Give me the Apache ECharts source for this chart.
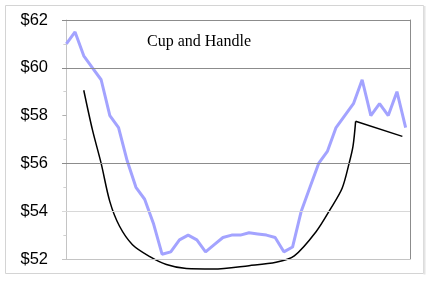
<!DOCTYPE html>
<html>
<head>
<meta charset="utf-8">
<script src="https://cdn.jsdelivr.net/npm/echarts@6/dist/echarts.min.js"></script>
<style>html,body{margin:0;padding:0;background:#fff}#c{width:432px;height:284px}</style>
</head>
<body>
<div id="c"></div>
<script>
// Categories (trading periods)
var days = [];
for (var d = 1; d <= 40; d++) days.push(String(d));
// Price series (lavender line)
var prices = [61.0, 61.5, 60.5, 60.0, 59.5, 58.0, 57.5, 56.1, 55.0, 54.5,
              53.5, 52.2, 52.3, 52.8, 53.0, 52.8, 52.3, 52.6, 52.9, 53.0,
              53.0, 53.1, 53.05, 53.0, 52.9, 52.3, 52.5, 54.0, 55.0, 56.0,
              56.5, 57.5, 58.0, 58.5, 59.5, 58.0, 58.5, 58.0, 59.0, 57.5];
// Cup outline (black curve): [period position, value]
var cupX = [2.0, 3.0, 4.0, 5.0, 6.1, 7.6, 9.6, 11.5, 13.8, 16.9,
            21.0, 24.1, 26.2, 28.7, 30.4, 31.7, 32.5, 32.95, 33.25];
var cupY = [59.06, 57.4, 56.0, 54.4, 53.38, 52.6, 52.1, 51.77, 51.6, 51.58,
            51.72, 51.86, 52.13, 53.14, 54.12, 54.96, 56.0, 56.72, 57.76];
// Handle (straight black segment)
var handleX = [33.25, 38.62];
var handleY = [57.76, 57.13];
// Y ticks
var yMin = 52, yMax = 62, yStep = 2;
var title = 'Cup and Handle';

function pairs(xs, ys) { return xs.map(function (x, i) { return [x, ys[i]]; }); }

var chart = echarts.init(document.getElementById('c'), null, {renderer: 'canvas'});
chart.setOption({
  animation: false,
  backgroundColor: '#fff',
  title: {
    text: title, left: 147, top: 34, padding: 0,
    textStyle: {fontFamily: 'Liberation Serif', fontWeight: 'normal', fontSize: 16, color: '#000'}
  },
  graphic: [{
    type: 'rect', shape: {x: 5.5, y: 5.5, width: 418, height: 268},
    style: {fill: 'none', stroke: '#d4d4d4', lineWidth: 1}, silent: true
  }, {
    type: 'line', shape: {x1: 424.5, y1: 6, x2: 424.5, y2: 274.5},
    style: {stroke: '#e4e4e4', lineWidth: 2}, silent: true
  }],
  grid: {left: 62, right: 22, top: 20, height: 239},
  xAxis: [{
    type: 'category', data: days, boundaryGap: true,
    axisLine: {show: false}, axisTick: {show: false}, axisLabel: {show: false}, splitLine: {show: false}
  }, {
    type: 'value', min: -0.5, max: 39.5, show: false
  }],
  yAxis: [{
    type: 'value', min: yMin, max: yMax, interval: yStep,
    axisLine: {show: true, lineStyle: {color: '#c4c4c4'}},
    axisTick: {show: true, length: 4, lineStyle: {color: '#b0b0b0'}},
    minorTick: {show: true, splitNumber: 2, length: 3, lineStyle: {color: '#d0d0d0'}},
    splitLine: {show: false},
    axisLabel: {
      formatter: function (v) { return '$' + v; }, margin: 14,
      fontFamily: 'Liberation Sans', fontSize: 16.5, color: '#000'
    }
  }, {
    type: 'value', position: 'right', min: yMin, max: yMax, interval: yStep,
    axisLine: {show: true, lineStyle: {color: '#8c8c8c'}},
    axisTick: {show: false}, axisLabel: {show: false}, splitLine: {show: false}
  }],
  series: [{
    type: 'line', data: prices, xAxisIndex: 0, yAxisIndex: 0,
    symbol: 'none', clip: false,
    lineStyle: {color: '#a3a3ff', width: 3},
    markLine: {
      silent: true, symbol: 'none', label: {show: false},
      lineStyle: {type: 'solid', width: 1},
      data: [
        {yAxis: 62, lineStyle: {color: '#8c8c8c'}},
        {yAxis: 60, lineStyle: {color: '#8c8c8c'}},
        {yAxis: 56, lineStyle: {color: '#8c8c8c'}},
        {yAxis: 54, lineStyle: {color: '#d8d8d8'}},
        {yAxis: 52, lineStyle: {color: '#c4c4c4'}}
      ]
    },
    z: 3
  }, {
    type: 'line', data: pairs(cupX, cupY), xAxisIndex: 1, yAxisIndex: 0,
    symbol: 'none', clip: false, smooth: 0.3,
    lineStyle: {color: '#000', width: 1.5}, z: 4
  }, {
    type: 'line', data: pairs(handleX, handleY), xAxisIndex: 1, yAxisIndex: 0,
    symbol: 'none', clip: false,
    lineStyle: {color: '#000', width: 1.5}, z: 4
  }]
});
</script>
</body>
</html>
